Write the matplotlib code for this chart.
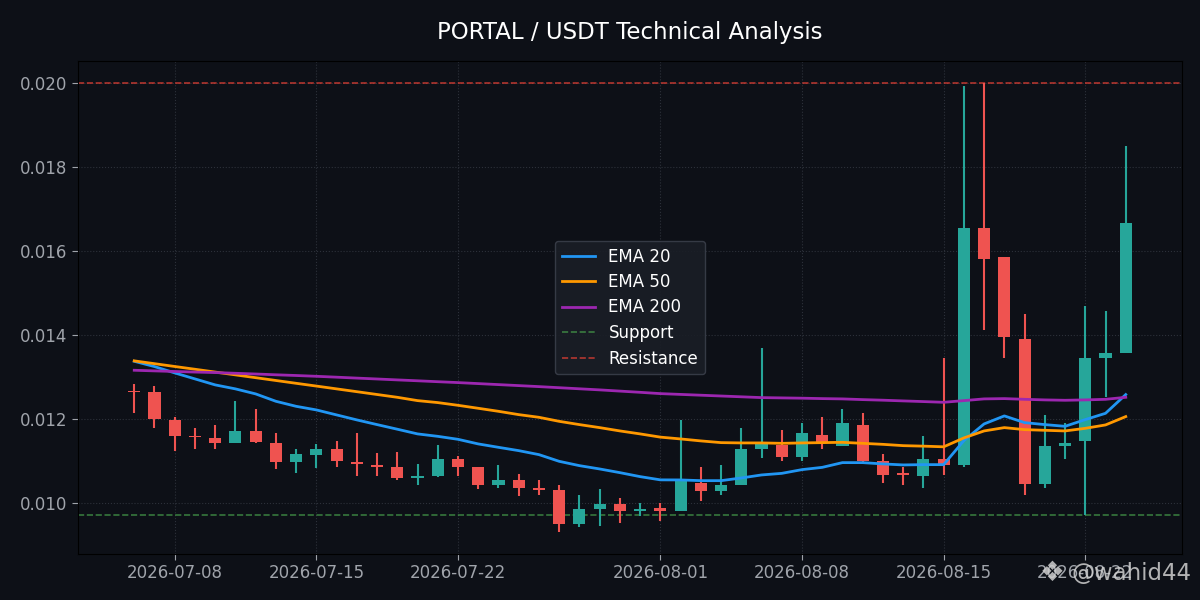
import matplotlib
matplotlib.use("Agg")
import matplotlib.pyplot as plt
import pandas as pd
import numpy as np

# ---- data ----
dates = pd.date_range("2026-07-06", periods=50, freq="D")
opens = [0.01265, 0.01263, 0.01198, 0.01158, 0.01155, 0.01142, 0.01170, 0.01143, 0.01096, 0.01113,
         0.01129, 0.01098, 0.01091, 0.01084, 0.01060, 0.01064, 0.01103, 0.01084, 0.01041, 0.01055,
         0.01036, 0.01031, 0.00950, 0.00986, 0.00998, 0.00981, 0.00988, 0.00981, 0.01048, 0.01029,
         0.01043, 0.01127, 0.01138, 0.01110, 0.01162, 0.01136, 0.01186, 0.01100, 0.01068, 0.01064,
         0.01103, 0.01091, 0.01654, 0.01585, 0.01391, 0.01045, 0.01136, 0.01146, 0.01344, 0.01358]
highs = [0.01282, 0.01279, 0.01205, 0.01177, 0.01186, 0.01243, 0.01224, 0.01165, 0.01127, 0.01141,
         0.01146, 0.01165, 0.01119, 0.01122, 0.01093, 0.01138, 0.01112, 0.01084, 0.01091, 0.01069,
         0.01053, 0.01041, 0.01019, 0.01033, 0.01012, 0.01000, 0.01000, 0.01198, 0.01086, 0.01091,
         0.01179, 0.01370, 0.01174, 0.01191, 0.01205, 0.01224, 0.01215, 0.01117, 0.01086, 0.01158,
         0.01344, 0.01993, 0.02000, 0.01585, 0.01449, 0.01210, 0.01189, 0.01468, 0.01456, 0.01850]
lows = [0.01213, 0.01177, 0.01124, 0.01129, 0.01129, 0.01142, 0.01142, 0.01080, 0.01070, 0.01082,
        0.01084, 0.01063, 0.01064, 0.01053, 0.01041, 0.01062, 0.01064, 0.01033, 0.01036, 0.01017,
        0.01019, 0.00931, 0.00943, 0.00945, 0.00952, 0.00967, 0.00957, 0.00981, 0.01005, 0.01019,
        0.01043, 0.01107, 0.01100, 0.01100, 0.01129, 0.01136, 0.01098, 0.01048, 0.01043, 0.01036,
        0.01067, 0.01086, 0.01413, 0.01344, 0.01019, 0.01036, 0.01105, 0.00971, 0.01251, 0.01356]
closes = [0.01263, 0.01200, 0.01158, 0.01156, 0.01142, 0.01170, 0.01144, 0.01096, 0.01115, 0.01129,
          0.01099, 0.01092, 0.01084, 0.01060, 0.01064, 0.01103, 0.01084, 0.01041, 0.01055, 0.01036,
          0.01031, 0.00950, 0.00986, 0.00998, 0.00979, 0.00983, 0.00979, 0.01055, 0.01029, 0.01043,
          0.01129, 0.01143, 0.01110, 0.01165, 0.01143, 0.01189, 0.01100, 0.01067, 0.01066, 0.01103,
          0.01091, 0.01656, 0.01582, 0.01394, 0.01045, 0.01136, 0.01143, 0.01344, 0.01356, 0.01668]

ema20 = [0.013372, 0.013246, 0.013095, 0.012952, 0.012809, 0.012714, 0.012594, 0.012418, 0.012298, 0.012212,
         0.012093, 0.011974, 0.011862, 0.011752, 0.011640, 0.011582, 0.011511, 0.011401, 0.011320, 0.011241,
         0.011146, 0.010986, 0.010883, 0.010804, 0.010716, 0.010621, 0.010544, 0.010542, 0.010525, 0.010525,
         0.010589, 0.010661, 0.010699, 0.010788, 0.010842, 0.010955, 0.010955, 0.010924, 0.010900, 0.010907,
         0.010907, 0.011480, 0.011878, 0.012069, 0.011909, 0.011862, 0.011821, 0.011981, 0.012131, 0.012578]
ema50 = [0.013382, 0.013315, 0.013248, 0.013182, 0.013115, 0.013048, 0.012981, 0.012914, 0.012847, 0.012781,
         0.012714, 0.012647, 0.012580, 0.012513, 0.012434, 0.012387, 0.012322, 0.012251, 0.012179, 0.012100,
         0.012036, 0.011940, 0.011862, 0.011790, 0.011711, 0.011640, 0.011563, 0.011520, 0.011473, 0.011432,
         0.011425, 0.011425, 0.011415, 0.011425, 0.011432, 0.011439, 0.011415, 0.011391, 0.011360, 0.011348,
         0.011332, 0.011544, 0.011711, 0.011790, 0.011742, 0.011726, 0.011711, 0.011773, 0.011854, 0.012053]
ema200 = [0.013158, 0.013143, 0.013129, 0.013115, 0.013103, 0.013086, 0.013069, 0.013050, 0.013033, 0.013014,
          0.012993, 0.012971, 0.012950, 0.012928, 0.012907, 0.012885, 0.012864, 0.012840, 0.012816, 0.012792,
          0.012768, 0.012742, 0.012716, 0.012690, 0.012661, 0.012632, 0.012601, 0.012582, 0.012563, 0.012544,
          0.012525, 0.012506, 0.012499, 0.012492, 0.012482, 0.012475, 0.012458, 0.012444, 0.012427, 0.012411,
          0.012394, 0.012434, 0.012475, 0.012482, 0.012465, 0.012451, 0.012442, 0.012451, 0.012465, 0.012513]
support = 0.00971
resistance = 0.02000
title = "PORTAL / USDT Technical Analysis"
watermark = "@wahid44"

# ---- style ----
BG = "#0d1017"
UP = "#26a69a"
DOWN = "#ef5350"
TXT = "#a0a4ab"

fig = plt.figure(figsize=(12, 6), dpi=100, facecolor=BG)
ax = fig.add_axes([78 / 1200, 1 - 554 / 600, (1182 - 78) / 1200, (554 - 61) / 600])
ax.set_facecolor(BG)

o = np.array(opens); h = np.array(highs); l = np.array(lows); c = np.array(closes)
colors = [UP if cc >= oo else DOWN for oo, cc in zip(o, c)]
body_bottom = np.minimum(o, c)
body_h = np.maximum(np.abs(c - o), 0.00004)

ax.vlines(dates, l, h, colors=colors, linewidth=1.5, zorder=3)
ax.bar(dates, body_h, bottom=body_bottom, width=0.6, color=colors, linewidth=0, zorder=4)

ax.plot(dates, ema20, color="#2196f3", lw=2, label="EMA 20", zorder=5)
ax.plot(dates, ema50, color="#ff9800", lw=2, label="EMA 50", zorder=5)
ax.plot(dates, ema200, color="#9c27b0", lw=2, label="EMA 200", zorder=5)
ax.axhline(support, color="#4caf50", lw=1.2, ls="--", alpha=0.65, label="Support", zorder=2)
ax.axhline(resistance, color="#f44336", lw=1.2, ls="--", alpha=0.7, label="Resistance", zorder=2)

ax.grid(True, color="#3a3f4a", linestyle=":", linewidth=0.8, alpha=0.7)
ax.set_axisbelow(True)
for s in ax.spines.values():
    s.set_color("black")
ax.tick_params(colors=TXT, labelsize=12, length=4)
ax.yaxis.set_major_formatter(matplotlib.ticker.FormatStrFormatter("%.3f"))
ax.xaxis.set_major_formatter(matplotlib.dates.DateFormatter("%Y-%m-%d"))

ax.set_title(title, color="white", fontsize=16.5, pad=16)

leg = ax.legend(loc="center", fontsize=12, facecolor="#1a1e26", edgecolor="#3a3f4a",
                labelcolor="white", framealpha=0.9, labelspacing=0.45)

fig.text(0.877, 0.045, "\u2756", color="#cfcfcf", alpha=0.85, fontsize=20,
         ha="center", va="center")
fig.text(0.993, 0.045, watermark, color="#d0d0d0", alpha=0.85, fontsize=16.5,
         ha="right", va="center")

fig.savefig("out.png", dpi=100, facecolor=BG)
